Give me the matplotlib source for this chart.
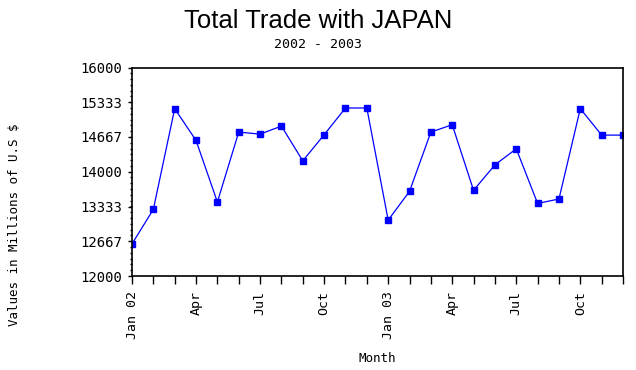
import matplotlib
matplotlib.use("Agg")
import matplotlib.pyplot as plt
from matplotlib.ticker import FixedLocator, AutoMinorLocator

# monthly total trade with Japan, Jan 2002 - Dec 2003 (millions of US $)
months = ["Jan 02", "Feb", "Mar", "Apr", "May", "Jun", "Jul", "Aug", "Sep", "Oct", "Nov", "Dec",
          "Jan 03", "Feb", "Mar", "Apr", "May", "Jun", "Jul", "Aug", "Sep", "Oct", "Nov", "Dec"]
trade = [12616, 13278, 15210, 14600, 13419, 14761, 14722, 14876, 14209, 14710, 15223, 15223,
         13072, 13624, 14761, 14902, 13644, 14132, 14440, 13393, 13477, 15210, 14703, 14703]
y_ticks = [12000, 12667, 13333, 14000, 14667, 15333, 16000]
label_every = 3

mono = "DejaVu Sans Mono"

fig = plt.figure(figsize=(6.36, 3.70), dpi=100)
ax = fig.add_axes([132 / 636, 1 - 276 / 370, (623 - 132) / 636, (276 - 67.5) / 370])

x = list(range(len(trade)))
ax.plot(x, trade, color="#0000ff", linewidth=0.9, marker="s", markersize=3.8)

ax.set_xlim(0, len(trade) - 1)
ax.set_ylim(12000, 16000)

ax.xaxis.set_major_locator(FixedLocator(x))
ax.set_xticklabels([m if i % label_every == 0 else "" for i, m in enumerate(months)],
                   rotation=90, fontfamily=mono, fontsize=9.5, va="top")
ax.set_yticks(y_ticks)
ax.set_yticklabels([str(v) for v in y_ticks], fontfamily=mono, fontsize=10)
ax.yaxis.set_minor_locator(AutoMinorLocator(6))

ax.tick_params(axis="x", which="major", direction="out", length=5.5, width=1, pad=5)
ax.tick_params(axis="y", which="major", direction="out", length=3.1, width=1, pad=4)
ax.tick_params(axis="y", which="minor", direction="out", length=1.7, width=1)
for s in ax.spines.values():
    s.set_linewidth(1.2)

fig.text(0.5, 1 - 21 / 370, "Total Trade with JAPAN", ha="center", va="center",
         fontfamily="Liberation Sans", fontsize=18.5)
fig.text(0.5, 1 - 44 / 370, "2002 - 2003", ha="center", va="center",
         fontfamily=mono, fontsize=9.5)
fig.text(15 / 636, 1 - 225 / 370, "Values in Millions of U.S $", rotation=90,
         ha="center", va="center", fontfamily=mono, fontsize=9)
fig.text(377.5 / 636, 1 - 358 / 370, "Month", ha="center", va="center",
         fontfamily=mono, fontsize=9)

fig.savefig("out.png", dpi=100)
